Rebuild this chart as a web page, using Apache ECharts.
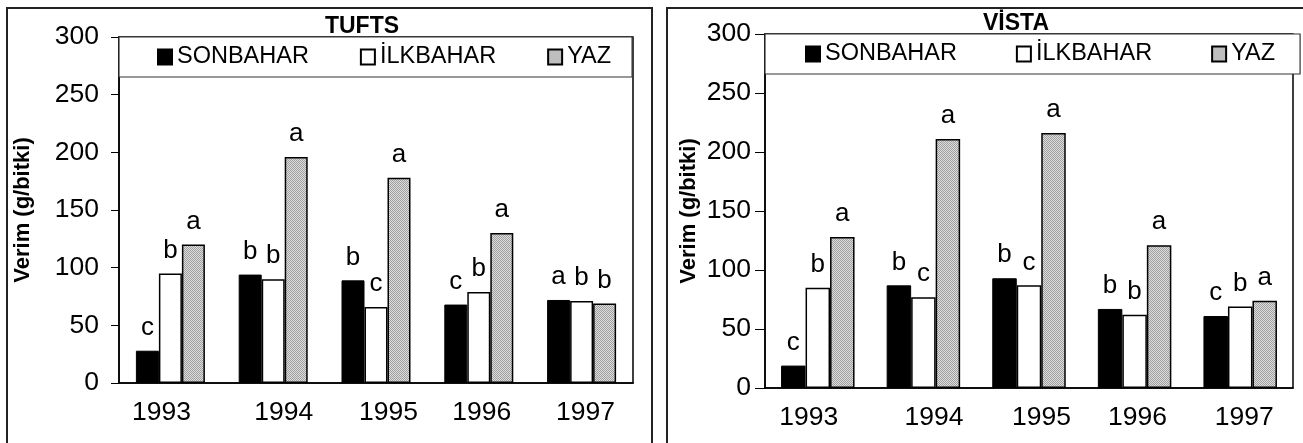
<!DOCTYPE html>
<html>
<head>
<meta charset="utf-8">
<script src="https://cdn.jsdelivr.net/npm/echarts@6/dist/echarts.min.js"></script>
<style>
html,body{margin:0;padding:0;background:#fff;}
#c{width:1303px;height:443px;}
</style>
</head>
<body>
<div id="c"></div>
<script>
// ---- data ----
const years = ['1993', '1994', '1995', '1996', '1997'];
const seriesNames = ['SONBAHAR', 'İLKBAHAR', 'YAZ'];
const yTicks = [0, 50, 100, 150, 200, 250, 300];

const tuftsSonbahar = [28, 94, 89, 68, 72];
const tuftsIlkbahar = [95, 90, 66, 79, 71];
const tuftsYaz      = [120, 196, 178, 130, 69];
const tuftsSonLetters = ['c', 'b', 'b', 'c', 'a'];
const tuftsIlkLetters = ['b', 'b', 'c', 'b', 'b'];
const tuftsYazLetters = ['a', 'a', 'a', 'a', 'b'];

const vistaSonbahar = [19, 87, 93, 67, 61];
const vistaIlkbahar = [85, 77, 87, 62, 69];
const vistaYaz      = [128, 211, 216, 121, 74];
const vistaSonLetters = ['c', 'b', 'b', 'b', 'c'];
const vistaIlkLetters = ['b', 'c', 'c', 'b', 'b'];
const vistaYazLetters = ['a', 'a', 'a', 'a', 'a'];

// ---- styles ----
const FONT = '"Liberation Sans", Arial, sans-serif';
const yearShift = [-9, 10.5, 12.5, 3, 4]; // horizontal nudge of year labels (px)

const pc = document.createElement('canvas');
pc.width = 2; pc.height = 2;
const pctx = pc.getContext('2d');
pctx.fillStyle = '#dcdcdc'; pctx.fillRect(0, 0, 2, 2);
pctx.fillStyle = '#a0a0a0'; pctx.fillRect(0, 0, 1, 1); pctx.fillRect(1, 1, 1, 1);
const grayPattern = { image: pc, repeat: 'repeat' };

const fills = ['#000000', '#ffffff', grayPattern];
const borders = [1, 1.5, 1.5];

const rich = {};
yearShift.forEach((d, i) => {
  rich['y' + i] = {
    fontFamily: FONT, fontSize: 26.5, color: '#000',
    padding: d >= 0 ? [0, 0, 0, 2 * d] : [0, -2 * d, 0, 0]
  };
});

function makeSeries(idx, values, letters, barWidth) {
  return values.map((v, s) => ({
    name: seriesNames[s],
    type: 'bar',
    xAxisIndex: idx, yAxisIndex: idx,
    barWidth: barWidth,
    barGap: '0%',
    data: v,
    itemStyle: { color: fills[s], borderColor: '#000', borderWidth: borders[s] },
    label: {
      show: true, position: 'top', distance: 10,
      fontFamily: FONT, fontSize: 26, color: '#000',
      formatter: p => letters[s][p.dataIndex]
    },
    emphasis: { disabled: true },
    animation: false
  }));
}

const panels = [
  { grid: { left: 119, right: 670, top: 37, bottom: 60 }, tick: 8, margin: 20, nameGap: 85,
    legend: { left: 119, top: 37, padding: [8, 21, 8, 38], itemGap: 51 } },
  { grid: { left: 765, right: 10, top: 34, bottom: 55 }, tick: 10, margin: 14, nameGap: 65,
    legend: { left: 765, top: 34, padding: [8, 25, 8, 40], itemGap: 59 } }
];

const option = {
  backgroundColor: '#fff',
  animation: false,
  grid: panels.map(p => Object.assign({ show: true, borderColor: '#000', borderWidth: 1.5, backgroundColor: 'transparent' }, p.grid)),
  xAxis: panels.map((p, i) => ({
    type: 'category', gridIndex: i, data: years,
    axisLine: { lineStyle: { color: '#000', width: 1.5 } },
    axisTick: { show: false },
    axisLabel: {
      margin: 16,
      formatter: (val, k) => '{y' + k + '|' + val + '}',
      rich: rich
    }
  })),
  yAxis: panels.map((p, i) => ({
    type: 'value', gridIndex: i, min: yTicks[0], max: yTicks[yTicks.length - 1], interval: yTicks[1] - yTicks[0],
    name: 'Verim (g/bitki)', nameLocation: 'middle', nameGap: p.nameGap,
    nameTextStyle: { fontFamily: FONT, fontSize: 22, fontWeight: 'bold', color: '#000', padding: [0, 0, 0, 0] },
    axisLine: { show: true, lineStyle: { color: '#000', width: 1.5 } },
    axisTick: { show: true, length: p.tick, lineStyle: { color: '#000', width: 1 } },
    axisLabel: { margin: p.margin, fontFamily: FONT, fontSize: 26.5, color: '#000' },
    splitLine: { show: false }
  })),
  legend: panels.map((p, i) => Object.assign({
    orient: 'horizontal',
    data: seriesNames.map(n => ({ name: n })),
    backgroundColor: '#fff', borderColor: '#333', borderWidth: 1.2,
    itemWidth: 14, itemHeight: 15, icon: 'rect',
    selectedMode: false,
    textStyle: { fontFamily: FONT, fontSize: 23.5, color: '#000' }
  }, p.legend)),
  graphic: [
    { type: 'rect', shape: { x: 7, y: 8, width: 645, height: 440 }, style: { fill: 'none', stroke: '#222', lineWidth: 2 }, silent: true, z: -1 },
    { type: 'rect', shape: { x: 667, y: 8, width: 640, height: 440 }, style: { fill: 'none', stroke: '#222', lineWidth: 2 }, silent: true, z: -1 },
    { type: 'text', style: { text: 'TUFTS', x: 362, y: 27, textAlign: 'center', textVerticalAlign: 'middle', font: 'bold 23px ' + FONT, fill: '#000' }, z: 10 },
    { type: 'text', style: { text: 'VİSTA', x: 1016, y: 24, textAlign: 'center', textVerticalAlign: 'middle', font: 'bold 23px ' + FONT, fill: '#000' }, z: 10 }
  ],
  series: [
    ...makeSeries(0, [tuftsSonbahar, tuftsIlkbahar, tuftsYaz], [tuftsSonLetters, tuftsIlkLetters, tuftsYazLetters], 23),
    ...makeSeries(1, [vistaSonbahar, vistaIlkbahar, vistaYaz], [vistaSonLetters, vistaIlkLetters, vistaYazLetters], 24.5)
  ]
};

const chart = echarts.init(document.getElementById('c'), null, { renderer: 'canvas' });
chart.setOption(option);
</script>
</body>
</html>
